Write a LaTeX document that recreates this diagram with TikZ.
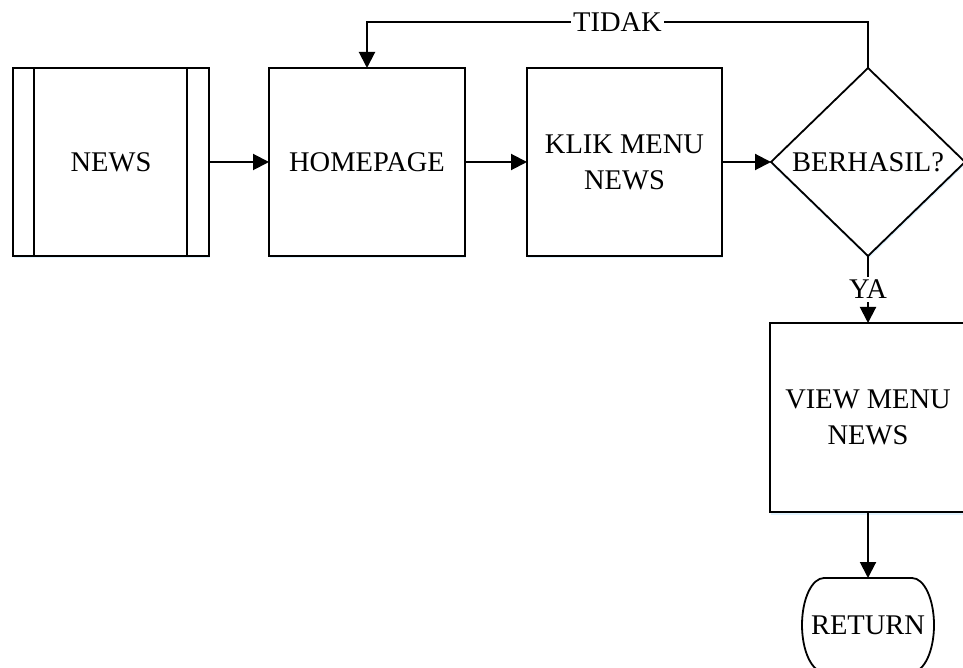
\documentclass[tikz,border=0pt]{standalone}
\usepackage{fontspec}
\setmainfont{Liberation Serif}
\usetikzlibrary{arrows.meta,shapes.geometric,shadows}
\begin{document}
\begin{tikzpicture}[x=1pt,y=1pt,
  every node/.style={font=\fontsize{28.5}{36}\selectfont, align=center, inner sep=0pt, outer sep=0pt},
  shad/.style={drop shadow={shadow xshift=0.5pt, shadow yshift=-2.5pt, fill=blue!40!cyan, opacity=0.12}},
  procbox/.style={draw, line width=1.8pt, fill=white, minimum width=196pt, minimum height=188pt, shad},
  decbox/.style={draw, diamond, line width=1.8pt, fill=white, minimum width=194pt, minimum height=188pt, shad},
  arr/.style={line width=2pt, -{Triangle[length=16pt,width=16pt]}},
  lbl/.style={fill=white, inner xsep=2pt, inner ysep=3pt}
]
\useasboundingbox (0,0) rectangle (963,667);
\node[procbox] (news) at (111,505) {NEWS};
\draw[line width=1.8pt] ([xshift=21pt]news.north west) -- ([xshift=21pt]news.south west);
\draw[line width=1.8pt] ([xshift=-22pt]news.north east) -- ([xshift=-22pt]news.south east);
\node[procbox] (home) at (367,505) {HOMEPAGE};
\node[procbox, minimum width=195pt] (klik) at (624.5,505) {KLIK MENU\\NEWS};
\node[decbox] (dia) at (868,505) {BERHASIL?};
\node[procbox, minimum height=189pt] (view) at (868,249.5) {VIEW MENU\\NEWS};
\node[minimum width=132pt, minimum height=94pt] (ret) at (868,42) {RETURN};
\draw[line width=1.8pt, fill=white]
  ([xshift=22pt]ret.north west) -- ([xshift=-22pt]ret.north east)
  arc[start angle=90, end angle=-90, x radius=22pt, y radius=47pt]
  -- ([xshift=22pt]ret.south west)
  arc[start angle=270, end angle=90, x radius=22pt, y radius=47pt] -- cycle;
\node at (ret) {RETURN};

\draw[arr] (news.east) -- (home.west);
\draw[arr] (home.east) -- (klik.west);
\draw[arr] (klik.east) -- (dia.west);
\draw[arr] (dia.north) -- ++(0,46) coordinate (c1) -| node[lbl, pos=0.25] {TIDAK} (home.north);
\draw[arr] (dia.south) -- node[lbl] {YA} (view.north);
\draw[arr] (view.south) -- (ret.north);
\end{tikzpicture}
\end{document}
